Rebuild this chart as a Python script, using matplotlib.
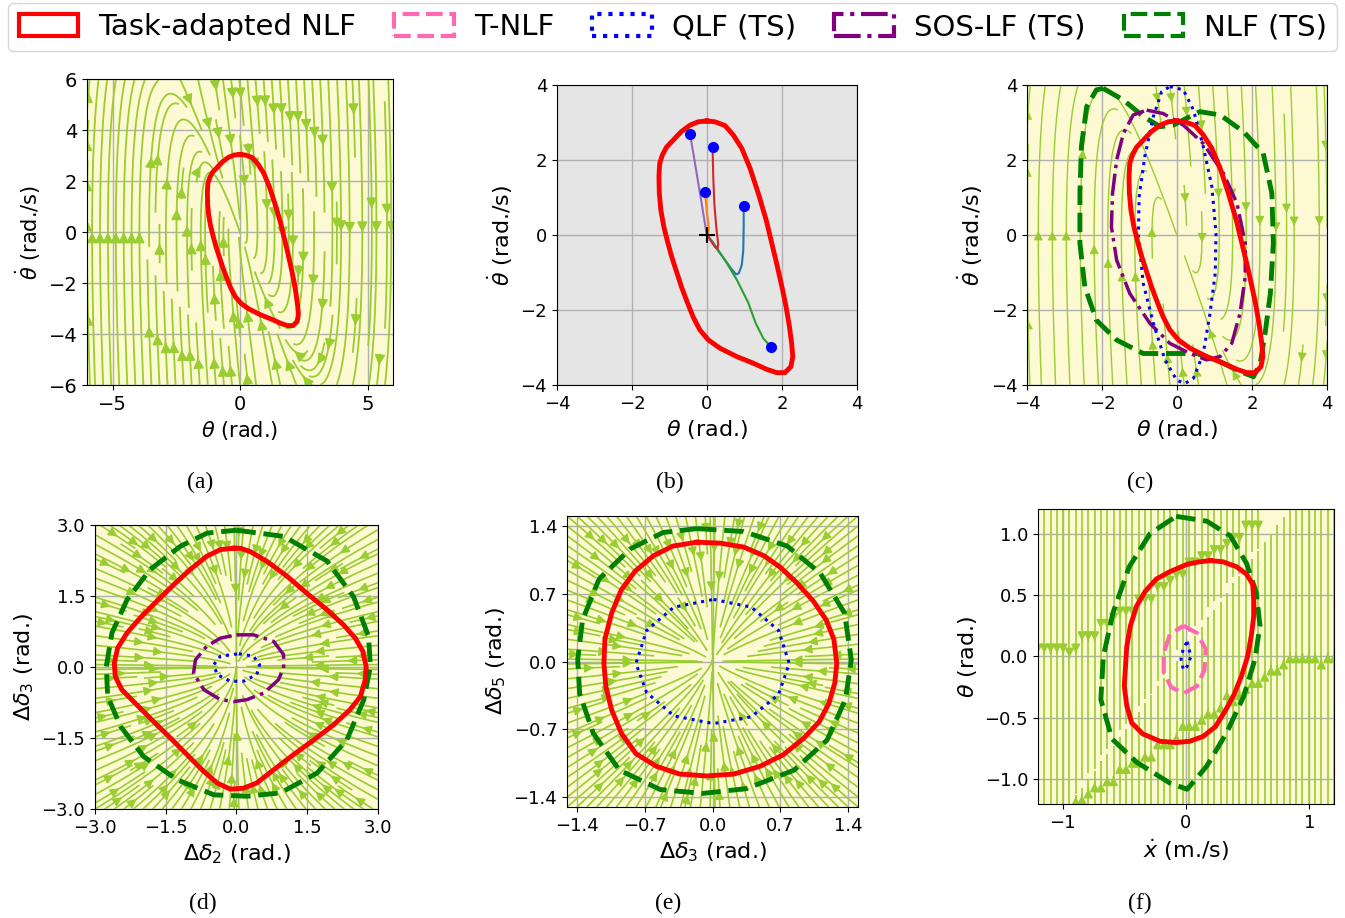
import numpy as np
import matplotlib
matplotlib.use("Agg")
import matplotlib.pyplot as plt
from matplotlib.patches import Patch

# -----------------------------------------------------------------------------
# curve data
# -----------------------------------------------------------------------------

# task-adapted NLF, pendulum (a, b, c)
ta_pend_x = [0.00, -0.23, -0.45, -0.68, -0.90, -1.08, -1.19, -1.26, -1.28, -1.27, -1.23, -1.15,
             -1.05, -0.94, -0.81, -0.68, -0.53, -0.37, -0.19, 0.04, 0.35, 0.79, 1.24, 1.59,
             1.86, 2.08, 2.24, 2.29, 2.26, 2.20, 2.11, 2.00, 1.86, 1.73, 1.58, 1.37, 1.15,
             0.93, 0.70, 0.48, 0.21]
ta_pend_y = [3.04, 3.02, 2.93, 2.76, 2.53, 2.34, 2.13, 1.91, 1.56, 1.11, 0.67, 0.22,
             -0.18, -0.58, -0.98, -1.38, -1.78, -2.18, -2.53, -2.80, -3.02, -3.24, -3.42, -3.58,
             -3.67, -3.67, -3.51, -3.24, -2.89, -2.44, -1.91, -1.38, -0.76, -0.22, 0.40, 1.11, 1.78,
             2.31, 2.67, 2.92, 3.02]

# pendulum trajectories (b)
traj_blue_x = [0.98, 0.98, 0.97, 0.93, 0.85, 0.78, 0.65, 0.40, 0.15, 0.0]
traj_blue_y = [0.78, 0.20, -0.40, -0.80, -1.02, -1.05, -0.90, -0.55, -0.18, 0.0]
traj_orange_x = [-0.05, 0.00, 0.05, 0.04, 0.0]
traj_orange_y = [1.15, 0.60, 0.20, 0.05, 0.0]
traj_green_x = [1.70, 1.50, 1.30, 1.10, 0.80, 0.50, 0.25, 0.08, 0.0]
traj_green_y = [-2.98, -2.75, -2.35, -1.80, -1.20, -0.70, -0.35, -0.10, 0.0]
traj_red_x = [0.15, 0.17, 0.20, 0.25, 0.30, 0.28, 0.20, 0.08, 0.0]
traj_red_y = [2.35, 1.50, 0.80, 0.20, -0.25, -0.38, -0.30, -0.12, 0.0]
traj_purple_x = [-0.45, -0.30, -0.15, -0.02, 0.0]
traj_purple_y = [2.70, 1.80, 0.90, 0.10, 0.0]

# pendulum, baselines (c)
sos_pend_x = [-0.81, -0.37, 0.17, 0.70, 1.24, 1.60, 1.82, 1.82, 1.68, 1.46, 1.15, 0.79, 0.35,
              -0.19, -0.72, -1.26, -1.61, -1.75, -1.72, -1.61, -1.43, -1.17]
sos_pend_y = [3.33, 3.24, 2.93, 2.44, 1.64, 0.84, -0.22, -1.11, -2.09, -2.89, -3.24, -3.33, -3.16,
              -2.89, -2.36, -1.56, -0.67, 0.22, 1.11, 2.00, 2.71, 3.20]
qlf_pend_x = [-0.19, 0.17, 0.44, 0.70, 0.93, 1.04, 1.02, 0.88, 0.70, 0.44, 0.21, -0.01, -0.32,
              -0.63, -0.90, -1.03, -1.01, -0.86, -0.63, -0.41]
qlf_pend_y = [3.96, 3.87, 3.33, 2.36, 1.29, 0.04, -1.02, -2.09, -3.16, -3.82, -3.96, -3.87, -3.33,
              -2.36, -1.29, -0.04, 1.02, 2.09, 3.16, 3.82]
nlf_pend_x = [-1.97, -1.43, -0.90, -0.45, -0.10, 0.17, 0.61, 1.15, 1.77, 2.30, 2.53, 2.57, 2.49,
              2.35, 2.22, 2.04, 1.68, 1.15, 0.53, -0.19, -0.90, -1.61, -2.15, -2.46, -2.59,
              -2.59, -2.55, -2.41, -2.15]
nlf_pend_y = [3.91, 3.60, 3.16, 2.89, 2.93, 3.07, 3.29, 3.20, 2.76, 2.18, 1.11, -0.22, -1.56,
              -2.62, -3.42, -3.78, -3.64, -3.38, -3.16, -3.16, -3.16, -2.80, -2.27, -1.38, -0.22,
              1.11, 2.36, 3.42, 3.87]

# power system, delta2-delta3 (d)
ta_d_x = [-0.06, -0.34, -0.63, -0.98, -1.33, -1.69, -2.04, -2.32, -2.52, -2.59, -2.57, -2.43,
          -2.11, -1.76, -1.40, -1.05, -0.70, -0.41, -0.13, 0.15, 0.43, 0.79, 1.21, 1.64, 2.06,
          2.41, 2.63, 2.73, 2.75, 2.68, 2.52, 2.27, 1.92, 1.49, 1.07, 0.65, 0.29, 0.08]
ta_d_y = [2.51, 2.48, 2.34, 2.06, 1.74, 1.39, 1.04, 0.72, 0.40, 0.08, -0.20, -0.48,
          -0.80, -1.15, -1.50, -1.85, -2.20, -2.45, -2.58, -2.56, -2.45, -2.17, -1.85, -1.54, -1.22,
          -0.90, -0.62, -0.27, 0.01, 0.33, 0.61, 0.89, 1.21, 1.56, 1.92, 2.23, 2.44, 2.51]
nlf_d_x = [0.00, 1.00, 1.92, 2.48, 2.80, 2.84, 2.70, 2.34, 1.71, 0.93, 0.22, -0.48, -1.26,
           -1.97, -2.46, -2.73, -2.76, -2.64, -2.32, -1.83, -1.19, -0.62]
nlf_d_y = [2.89, 2.76, 2.24, 1.49, 0.65, 0.01, -0.69, -1.54, -2.24, -2.66, -2.73, -2.70, -2.38,
           -1.89, -1.25, -0.62, 0.01, 0.72, 1.42, 2.06, 2.55, 2.83]
sos_d_x = [0.00, 0.36, 0.79, 1.00, 1.00, 0.89, 0.58, 0.22, -0.06, -0.34, -0.69, -0.91, -0.87,
           -0.63, -0.34]
sos_d_y = [0.68, 0.68, 0.54, 0.26, -0.02, -0.27, -0.55, -0.69, -0.73, -0.69, -0.48, -0.13, 0.15,
           0.44, 0.61]
qlf_d_x = [0.05, 0.36, 0.49, 0.43, 0.15, -0.13, -0.41, -0.48, -0.34]
qlf_d_y = [0.28, 0.23, 0.05, -0.16, -0.30, -0.30, -0.16, 0.05, 0.23]

# power system, delta3-delta5 (e)
ta_e_x = [-0.16, 0.08, 0.32, 0.53, 0.70, 0.87, 1.04, 1.17, 1.25, 1.28, 1.26, 1.20, 1.10, 0.94,
          0.73, 0.49, 0.22, -0.06, -0.34, -0.58, -0.79, -0.94, -1.04, -1.10, -1.12, -1.11,
          -1.04, -0.94, -0.80, -0.61, -0.41]
ta_e_y = [1.23, 1.22, 1.18, 1.09, 0.97, 0.81, 0.62, 0.43, 0.23, -0.02, -0.22, -0.43, -0.62, -0.79,
          -0.96, -1.08, -1.16, -1.18, -1.16, -1.08, -0.95, -0.74, -0.50, -0.26, -0.02, 0.23,
          0.50, 0.74, 0.93, 1.09, 1.19]
nlf_e_x = [-0.16, 0.32, 0.77, 1.11, 1.36, 1.43, 1.37, 1.18, 0.84, 0.35, -0.10, -0.54, -0.96,
           -1.23, -1.37, -1.39, -1.34, -1.17, -0.85, -0.51]
nlf_e_y = [1.37, 1.34, 1.19, 0.91, 0.50, 0.02, -0.39, -0.81, -1.12, -1.31, -1.36, -1.32, -1.12,
           -0.74, -0.33, 0.02, 0.43, 0.85, 1.16, 1.33]
qlf_e_x = [0.01, 0.40, 0.68, 0.79, 0.68, 0.40, 0.01, -0.40, -0.68, -0.79, -0.68, -0.40]
qlf_e_y = [0.64, 0.56, 0.32, -0.02, -0.34, -0.57, -0.64, -0.56, -0.32, -0.02, 0.32, 0.56]

# cart-pole, xdot-theta (f)
ta_f_x = [0.20, 0.30, 0.41, 0.49, 0.54, 0.55, 0.55, 0.53, 0.50, 0.45, 0.39, 0.32, 0.24, 0.14,
          0.03, -0.08, -0.21, -0.35, -0.44, -0.48, -0.50, -0.49, -0.48, -0.45, -0.40, -0.33,
          -0.24, -0.13, 0.01, 0.11]
ta_f_y = [0.78, 0.77, 0.73, 0.67, 0.59, 0.46, 0.33, 0.17, 0.00, -0.16, -0.31, -0.44, -0.57,
          -0.65, -0.69, -0.70, -0.69, -0.63, -0.54, -0.40, -0.24, -0.08, 0.08, 0.25, 0.41, 0.53,
          0.63, 0.69, 0.75, 0.77]
nlf_f_x = [-0.08, 0.17, 0.36, 0.49, 0.57, 0.60, 0.56, 0.47, 0.33, 0.17, 0.01, -0.13, -0.40,
           -0.60, -0.69, -0.67, -0.59, -0.46, -0.29]
nlf_f_y = [1.14, 1.10, 0.98, 0.76, 0.52, 0.25, -0.02, -0.32, -0.62, -0.89, -1.08, -1.03, -0.86,
           -0.67, -0.35, 0.00, 0.36, 0.73, 1.00]
tnlf_f_x = [-0.02, 0.09, 0.16, 0.15, 0.09, -0.02, -0.12, -0.18, -0.18, -0.13]
tnlf_f_y = [0.25, 0.19, 0.06, -0.11, -0.24, -0.30, -0.25, -0.13, 0.03, 0.18]
qlf_f_x = [0.01, 0.04, 0.01, -0.02, -0.04, -0.02]
qlf_f_y = [0.12, 0.00, -0.08, -0.11, -0.02, 0.07]

captions = ["(a)", "(b)", "(c)", "(d)", "(e)", "(f)"]
legend_labels = ["Task-adapted NLF", "T-NLF", "QLF (TS)", "SOS-LF (TS)", "NLF (TS)"]

# closed-loop vector fields
K_PEND, D_PEND = 20.0, 10.0
A_D, B_D = 1.0, 0.6
A_E, B_E = 1.0, 0.85
SLOPE_F, OFFS_F = 1.35, 0.07

# -----------------------------------------------------------------------------

BG = "#fdf9d2"
STREAM = "yellowgreen"
STY = {
    "ta": dict(color="red", lw=3.5, ls="-"),
    "tnlf": dict(color="hotpink", lw=3.0, ls=(0, (4, 1.6))),
    "qlf": dict(color="blue", lw=2.2, ls=":"),
    "sos": dict(color="purple", lw=2.5, ls="-."),
    "nlf": dict(color="green", lw=3.5, ls=(0, (4, 1.6))),
}


def closed(x, y):
    return np.append(x, x[0]), np.append(y, y[0])


def curve(ax, x, y, key):
    cx, cy = closed(x, y)
    ax.plot(cx, cy, zorder=5, solid_joinstyle="round", **STY[key])


def stream(ax, lim, f, density, lw, asize):
    xs = np.linspace(lim[0], lim[1], 200)
    ys = np.linspace(lim[2], lim[3], 200)
    X, Y = np.meshgrid(xs, ys)
    U, V = f(X, Y)
    ax.set_facecolor(BG)
    ax.streamplot(X, Y, U, V, density=density, color=STREAM, linewidth=lw,
                  arrowsize=asize, zorder=2)
    ax.set_xlim(lim[0], lim[1])
    ax.set_ylim(lim[2], lim[3])


def pend(th, om):
    return om, -K_PEND * th - D_PEND * om


def field_d(x, y):
    return -A_D * x, -B_D * y


def field_e(x, y):
    return -A_E * x, -B_E * y


def field_f(x, y):
    return 0.0 * x, -(y - SLOPE_F * x - OFFS_F)


def fmt(ticks):
    return [f"{t:.1f}".replace("-", "\u2212") for t in ticks]


def style(ax, fs_tick, fs_lab):
    ax.grid(True, color="#b0b0b0", lw=1.0, zorder=1)
    ax.set_axisbelow(True)
    ax.tick_params(labelsize=fs_tick)
    ax.xaxis.label.set_size(fs_lab)
    ax.yaxis.label.set_size(fs_lab)


fig = plt.figure(figsize=(13.45, 9.18), dpi=100)

# (a)
ax = fig.add_axes([0.0647, 0.5806, 0.2275, 0.3333])
stream(ax, (-6, 6, -6, 6), pend, 1.3, 1.3, 1.5)
curve(ax, ta_pend_x, ta_pend_y, "ta")
ax.set_xticks([-5, 0, 5])
ax.set_yticks([-6, -4, -2, 0, 2, 4, 6])
ax.set_xlabel(r"$\theta$ (rad.)")
ax.set_ylabel(r"$\dot{\theta}$ (rad./s)")
style(ax, 14, 15)

# (b)
ax = fig.add_axes([0.4141, 0.5806, 0.2230, 0.3268])
ax.set_facecolor("#e5e5e5")
curve(ax, ta_pend_x, ta_pend_y, "ta")
for tx, ty, c in [(traj_blue_x, traj_blue_y, "C0"), (traj_orange_x, traj_orange_y, "C1"),
                  (traj_green_x, traj_green_y, "C2"), (traj_red_x, traj_red_y, "C3"),
                  (traj_purple_x, traj_purple_y, "C4")]:
    ax.plot(tx, ty, color=c, lw=1.5, zorder=4)
    ax.plot(tx[0], ty[0], "o", color="blue", ms=7, zorder=6)
ax.plot(0, 0, "+", color="black", ms=12, mew=1.5, zorder=6)
ax.set_xlim(-4, 4)
ax.set_ylim(-4, 4)
ax.set_xticks([-4, -2, 0, 2, 4])
ax.set_yticks([-4, -2, 0, 2, 4])
ax.set_xlabel(r"$\theta$ (rad.)")
ax.set_ylabel(r"$\dot{\theta}$ (rad./s)")
style(ax, 13, 16)

# (c)
ax = fig.add_axes([0.7636, 0.5806, 0.2230, 0.3268])
stream(ax, (-4, 4, -4, 4), pend, 0.75, 1.0, 1.3)
curve(ax, nlf_pend_x, nlf_pend_y, "nlf")
curve(ax, sos_pend_x, sos_pend_y, "sos")
curve(ax, qlf_pend_x, qlf_pend_y, "qlf")
curve(ax, ta_pend_x, ta_pend_y, "ta")
ax.set_xticks([-4, -2, 0, 2, 4])
ax.set_yticks([-4, -2, 0, 2, 4])
ax.set_xlabel(r"$\theta$ (rad.)")
ax.set_ylabel(r"$\dot{\theta}$ (rad./s)")
style(ax, 13, 16)

# (d)
ax = fig.add_axes([0.0706, 0.1187, 0.2104, 0.3094])
stream(ax, (-3, 3, -3, 3), field_d, 2.0, 1.2, 1.3)
curve(ax, nlf_d_x, nlf_d_y, "nlf")
curve(ax, ta_d_x, ta_d_y, "ta")
curve(ax, sos_d_x, sos_d_y, "sos")
curve(ax, qlf_d_x, qlf_d_y, "qlf")
ticks = [-3.0, -1.5, 0.0, 1.5, 3.0]
ax.set_xticks(ticks, fmt(ticks))
ax.set_yticks(ticks, fmt(ticks))
ax.set_xlabel(r"$\Delta\delta_2$ (rad.)")
ax.set_ylabel(r"$\Delta\delta_3$ (rad.)")
style(ax, 13, 16)

# (e)
ax = fig.add_axes([0.4216, 0.1209, 0.2164, 0.3170])
stream(ax, (-1.5, 1.5, -1.5, 1.5), field_e, 2.0, 1.2, 1.3)
curve(ax, nlf_e_x, nlf_e_y, "nlf")
curve(ax, ta_e_x, ta_e_y, "ta")
curve(ax, qlf_e_x, qlf_e_y, "qlf")
ticks = [-1.4, -0.7, 0.0, 0.7, 1.4]
ax.set_xticks(ticks, fmt(ticks))
ax.set_yticks(ticks, fmt(ticks))
ax.set_xlabel(r"$\Delta\delta_3$ (rad.)")
ax.set_ylabel(r"$\Delta\delta_5$ (rad.)")
style(ax, 13, 16)

# (f)
ax = fig.add_axes([0.7717, 0.1242, 0.2201, 0.3214])
stream(ax, (-1.2, 1.2, -1.2, 1.2), field_f, 1.6, 1.2, 1.3)
curve(ax, nlf_f_x, nlf_f_y, "nlf")
curve(ax, ta_f_x, ta_f_y, "ta")
curve(ax, tnlf_f_x, tnlf_f_y, "tnlf")
curve(ax, qlf_f_x, qlf_f_y, "qlf")
ax.set_xticks([-1, 0, 1])
ticks = [-1.0, -0.5, 0.0, 0.5, 1.0]
ax.set_yticks(ticks, fmt(ticks))
ax.set_xlabel(r"$\dot{x}$ (m./s)")
ax.set_ylabel(r"$\theta$ (rad.)")
style(ax, 13, 16)

# captions
cap_pos = [(200, 482), (670, 482), (1140, 482), (203, 903), (668, 903), (1140, 903)]
for (px, py), c in zip(cap_pos, captions):
    fig.text(px / 1345, 1 - py / 918, c, ha="center", va="center",
             family="Liberation Serif", fontsize=17)

# legend
keys = ["ta", "tnlf", "qlf", "sos", "nlf"]
handles = [Patch(facecolor="white", edgecolor=STY[k]["color"], lw=3.0,
                 ls=STY[k]["ls"]) for k in keys]
fig.legend(handles, legend_labels, ncol=5, loc="upper center",
           bbox_to_anchor=(0.5, 0.9967), borderaxespad=0, fontsize=21,
           handlelength=2.05, handleheight=0.8, handletextpad=0.69,
           columnspacing=1.3, borderpad=0.35, frameon=True,
           edgecolor="#cccccc", fancybox=True)

fig.savefig("out.png", dpi=100)
